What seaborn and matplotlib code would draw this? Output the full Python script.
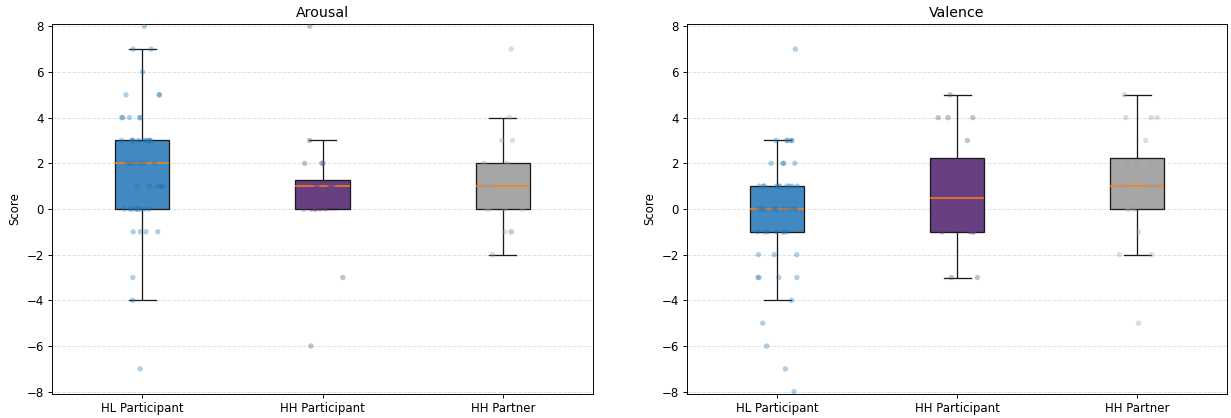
import numpy as np
import pandas as pd
import matplotlib
matplotlib.use("Agg")
import matplotlib.pyplot as plt
import seaborn as sns

groups = ["HL Participant", "HH Participant", "HH Partner"]
box_colors = ["#4189c0", "#683f80", "#a6a6a6"]
point_colors = ["#1f77b4", "#6a3f8a", "#a0a0a0"]

arousal_hl = [8, 7, 7, 6, 5, 5, 5, 4, 4, 4, 4, 4,
              3, 3, 3, 3, 3, 3, 3, 3, 3, 3, 2, 2, 2, 2, 2, 2,
              1, 1, 1, 1, 1, 1, 0, 0, 0, 0, 0, 0, 0, 0, 0,
              -1, -1, -1, -1, -3, -4, -7]
arousal_hh = [8, 3, 2, 2, 2, 1, 1, 1, 1, 1, 1, 1, 0, 0, 0, 0, 0, 0, -3, -6]
arousal_partner = [7, 4, 3, 3, 2, 2, 1, 1, 1, 1, 0, 0, 0, 0, -1, -1, -1, -2]

valence_hl = [7, 3, 3, 3, 3, 3, 2, 2, 2, 2,
              1, 1, 1, 1, 1, 1, 1, 1, 1, 1, 0, 0, 0, 0, 0, 0, 0, 0, 0, 0, 0,
              -1, -1, -1, -1, -1, -1, -1, -2, -2, -2, -3, -3, -3, -3,
              -4, -5, -6, -7, -8]
valence_hh = [5, 4, 4, 4, 3, 2, 2, 2, 1, 1, 0, 0, 0, 0, -1, -1, -1, -1, -3, -3]
valence_partner = [5, 4, 4, 4, 3, 2, 2, 2, 1, 1, 1, 1, 1, 0, 0, 0, -1, -2, -2, -5]

panels = {
    "Arousal": [arousal_hl, arousal_hh, arousal_partner],
    "Valence": [valence_hl, valence_hh, valence_partner],
}


def to_frame(series):
    parts = [pd.DataFrame({"group": g, "score": v}) for g, v in zip(groups, series)]
    return pd.concat(parts, ignore_index=True)


np.random.seed(3)
fig = plt.figure(figsize=(1231 / 85, 418 / 85), dpi=85)
axes = [fig.add_axes([52 / 1231, 0.0574, 541 / 1231, 0.8852]),
        fig.add_axes([687 / 1231, 0.0574, 540 / 1231, 0.8852])]

for ax, (title, series) in zip(axes, panels.items()):
    df = to_frame(series)
    ax.set_axisbelow(True)
    ax.yaxis.grid(True, linestyle="--", color="#cccccc", alpha=0.6, linewidth=0.8)
    sns.boxplot(data=df, x="group", y="score", hue="group", order=groups,
                hue_order=groups, palette=box_colors, saturation=1, width=0.3,
                showfliers=False, linecolor="#1a1a1a", linewidth=1.1,
                medianprops=dict(color="#ff7f0e", linewidth=1.3),
                capwidths=0.15, legend=False, ax=ax)
    sns.stripplot(data=df, x="group", y="score", hue="group", order=groups,
                  hue_order=groups, palette=point_colors, jitter=0.12, size=4.6,
                  alpha=0.35, linewidth=0, legend=False, ax=ax, zorder=3)
    ax.set_title(title, fontsize=12)
    ax.set_ylim(-8.1, 8.1)
    ax.set_yticks(range(-8, 9, 2))
    ax.set_xlim(-0.5, 2.5)
    ax.set_xlabel("")
    ax.set_ylabel("Score", fontsize=10)
    ax.tick_params(labelsize=10)

fig.savefig("out.png", dpi=85)
